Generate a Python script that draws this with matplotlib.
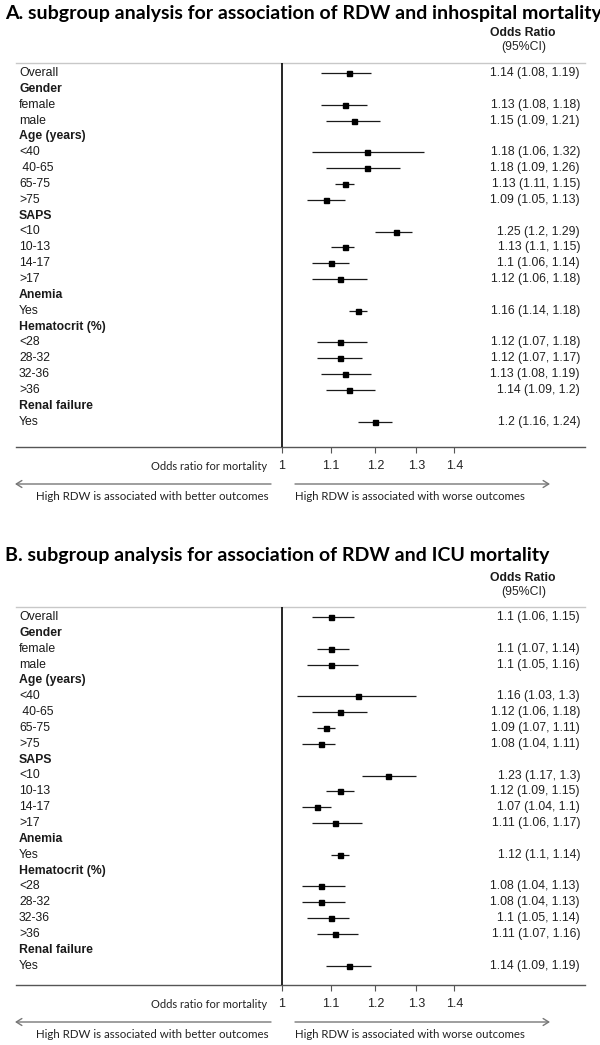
import numpy as np
import matplotlib
matplotlib.use("Agg")
import matplotlib.pyplot as plt
from matplotlib.ticker import NullLocator, FixedLocator, FixedFormatter

# ---------------- data ----------------
row_labels = ["Overall", "Gender", "female", "male", "Age (years)", "<40", " 40-65",
              "65-75", ">75", "SAPS", "<10", "10-13", "14-17", ">17", "Anemia", "Yes",
              "Hematocrit (%)", "<28", "28-32", "32-36", ">36", "Renal failure", "Yes"]
header_rows = ["Gender", "Age (years)", "SAPS", "Anemia", "Hematocrit (%)", "Renal failure"]

nan = np.nan
# Panel A: in-hospital mortality
a_or = [1.14, nan, 1.13, 1.15, nan, 1.18, 1.18, 1.13, 1.09, nan, 1.25, 1.13, 1.10, 1.12,
        nan, 1.16, nan, 1.12, 1.12, 1.13, 1.14, nan, 1.20]
a_lo = [1.08, nan, 1.08, 1.09, nan, 1.06, 1.09, 1.11, 1.05, nan, 1.20, 1.10, 1.06, 1.06,
        nan, 1.14, nan, 1.07, 1.07, 1.08, 1.09, nan, 1.16]
a_hi = [1.19, nan, 1.18, 1.21, nan, 1.32, 1.26, 1.15, 1.13, nan, 1.29, 1.15, 1.14, 1.18,
        nan, 1.18, nan, 1.18, 1.17, 1.19, 1.20, nan, 1.24]
# Panel B: ICU mortality
b_or = [1.10, nan, 1.10, 1.10, nan, 1.16, 1.12, 1.09, 1.08, nan, 1.23, 1.12, 1.07, 1.11,
        nan, 1.12, nan, 1.08, 1.08, 1.10, 1.11, nan, 1.14]
b_lo = [1.06, nan, 1.07, 1.05, nan, 1.03, 1.06, 1.07, 1.04, nan, 1.17, 1.09, 1.04, 1.06,
        nan, 1.10, nan, 1.04, 1.04, 1.05, 1.07, nan, 1.09]
b_hi = [1.15, nan, 1.14, 1.16, nan, 1.30, 1.18, 1.11, 1.11, nan, 1.30, 1.15, 1.10, 1.17,
        nan, 1.14, nan, 1.13, 1.13, 1.14, 1.16, nan, 1.19]

x_ticks = [1, 1.1, 1.2, 1.3, 1.4]
x_tick_labels = ["1", "1.1", "1.2", "1.3", "1.4"]

titles = ["A. subgroup analysis for association of RDW and inhospital mortality",
          "B. subgroup analysis for association of RDW and ICU mortality"]
col_header = ["Odds Ratio", "(95%CI)"]
axis_label = "Odds ratio for mortality"
left_note = "High RDW is associated with better outcomes"
right_note = "High RDW is associated with worse outcomes"

# ---------------- layout ----------------
W, H = 600, 1045
fig = plt.figure(figsize=(W / 100, H / 100), dpi=100)
fig.patch.set_facecolor("white")


def fx(px):
    return px / W


def fy(py):
    return 1 - py / H


SP = 15.85          # row spacing in px
X_LEFT, X_RIGHT = 16, 585
X_ONE = 282         # pixel of OR = 1
PX_PER_LN = 512.0

label_font = ["Liberation Sans", "DejaVu Sans"]
cal_font = ["Lato", "DejaVu Sans"]

panels = [
    dict(title_y=13, h1=33, h2=47, top=63, row0=73, axis=447, data=(a_or, a_lo, a_hi)),
    dict(title_y=555, h1=578, h2=592, top=607, row0=617, axis=985, data=(b_or, b_lo, b_hi)),
]

renderer = fig.canvas.get_renderer()


def fit_width(t, target):
    for _ in range(3):
        bb = t.get_window_extent(renderer)
        t.set_fontsize(t.get_fontsize() * target / bb.width)


title_size = None
for pi, p in enumerate(panels):
    orv, lov, hiv = [np.array(v, dtype=float) for v in p["data"]]
    ax = fig.add_axes([fx(X_LEFT), fy(p["axis"]), fx(X_RIGHT) - fx(X_LEFT),
                       (p["axis"] - p["top"]) / H])
    ax.set_xscale("log")
    ax.set_xlim(np.exp((X_LEFT - X_ONE) / PX_PER_LN), np.exp((X_RIGHT - X_ONE) / PX_PER_LN))
    ax.set_ylim((p["axis"] - p["row0"]) / SP, (p["top"] - p["row0"]) / SP)
    ax.set_facecolor("none")

    for s in ("left", "right"):
        ax.spines[s].set_visible(False)
    ax.spines["top"].set_color("#c8c8c8")
    ax.spines["top"].set_linewidth(1.0)
    ax.spines["bottom"].set_color("#555555")
    ax.spines["bottom"].set_linewidth(1.0)
    ax.yaxis.set_visible(False)
    ax.xaxis.set_major_locator(FixedLocator(x_ticks))
    ax.xaxis.set_major_formatter(FixedFormatter(x_tick_labels))
    ax.xaxis.set_minor_locator(NullLocator())
    ax.tick_params(axis="x", which="major", direction="out", length=4, width=0.8,
                   color="#555555", pad=5.5, labelsize=9, labelcolor="#222222")
    for lab in ax.get_xticklabels():
        lab.set_family(label_font)

    ax.axvline(1, color="black", lw=1.2, zorder=3)

    rows = np.arange(len(row_labels))
    ok = ~np.isnan(orv)
    ax.hlines(rows[ok], lov[ok], hiv[ok], color="#1a1a1a", lw=0.9, zorder=4)
    ax.plot(orv[ok], rows[ok], ls="none", marker="s", ms=3.6, color="black", zorder=5)

    # row labels and OR text
    for i, lab in enumerate(row_labels):
        ypx = p["row0"] + i * SP
        bold = lab in header_rows
        fig.text(fx(19), fy(ypx), lab, ha="left", va="center", fontsize=8.8,
                 family=label_font, fontweight="bold" if bold else "normal",
                 color="#1a1a1a")
        if ok[i]:
            s = f"{orv[i]:g} ({lov[i]:g}, {hiv[i]:g})"
            fig.text(fx(580), fy(ypx), s, ha="right", va="center", fontsize=8.8,
                     family=label_font, color="#222222")

    # column header
    fig.text(fx(523), fy(p["h1"]), col_header[0], ha="center", va="center",
             fontsize=8.8, family=label_font, fontweight="bold", color="#1a1a1a")
    fig.text(fx(524), fy(p["h2"]), col_header[1], ha="center", va="center",
             fontsize=8.8, family=label_font, color="#222222")

    # title
    t = fig.text(fx(5), fy(p["title_y"]), titles[pi], ha="left", va="center",
                 fontsize=12, family=cal_font, fontweight="bold", color="black")
    if title_size is None:
        fit_width(t, 594)
        title_size = t.get_fontsize()
    else:
        t.set_fontsize(title_size)

    # axis label
    ta = fig.text(fx(267), fy(p["axis"] + 19), axis_label, ha="right", va="center",
                  fontsize=8.5, family=cal_font, color="#222222")
    fit_width(ta, 117)

    # arrows
    ay = fy(p["axis"] + 37)
    fig.add_artist(matplotlib.patches.FancyArrowPatch(
        (fx(271), ay), (fx(15), ay), transform=fig.transFigure,
        arrowstyle="->,head_length=4,head_width=2.5", color="#777777", lw=1.0,
        shrinkA=0, shrinkB=0, mutation_scale=1))
    fig.add_artist(matplotlib.patches.FancyArrowPatch(
        (fx(295), ay), (fx(550), ay), transform=fig.transFigure,
        arrowstyle="->,head_length=4,head_width=2.5", color="#777777", lw=1.0,
        shrinkA=0, shrinkB=0, mutation_scale=1))
    ny = fy(p["axis"] + 49)
    t1 = fig.text(fx(152), ny, left_note, ha="center", va="center", fontsize=8.5,
                  family=cal_font, color="#222222")
    fit_width(t1, 231)
    t2 = fig.text(fx(410), ny, right_note, ha="center", va="center", fontsize=8.5,
                  family=cal_font, color="#222222")
    fit_width(t2, 230)

fig.savefig("out.png", dpi=100, facecolor="white")
